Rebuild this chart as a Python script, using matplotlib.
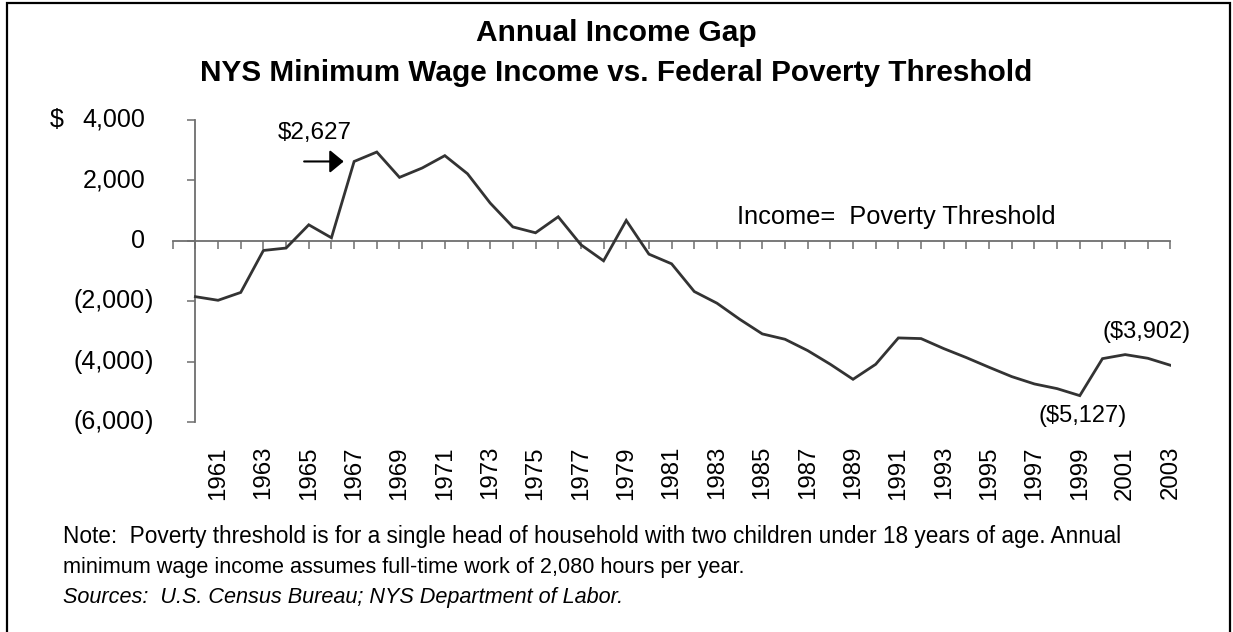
import matplotlib
matplotlib.use("Agg")
import matplotlib.pyplot as plt
from matplotlib.transforms import blended_transform_factory
from matplotlib.patches import Rectangle

plt.rcParams['font.family'] = ['Liberation Sans', 'DejaVu Sans']

# ---- data ----
years = list(range(1960, 2004))
gap = [-1850, -1970, -1710, -320, -240, 530, 100, 2627, 2940, 2100,
       2410, 2820, 2220, 1250, 460, 265, 795, -130, -663, 674,
       -442, -762, -1680, -2066, -2597, -3083, -3260, -3635, -4089, -4586,
       -4089, -3216, -3238, -3569, -3868, -4188, -4497, -4740, -4895, -5127,
       -3902, -3768, -3890, -4122]
label_years = list(range(1961, 2004, 2))
yticks = [4000, 2000, 0, -2000, -4000, -6000]
title = "Annual Income Gap"
subtitle = "NYS Minimum Wage Income vs. Federal Poverty Threshold"
note1 = "Note:  Poverty threshold is for a single head of household with two children under 18 years of age. Annual"
note2 = "minimum wage income assumes full-time work of 2,080 hours per year."
note3 = "Sources:  U.S. Census Bureau; NYS Department of Labor."

W, H = 1233, 632
fig = plt.figure(figsize=(W / 100, H / 100), dpi=100)
fig.patch.set_facecolor('white')

def fx(px):
    return px / W

def fy(py):
    return 1 - py / H

# border
fig.add_artist(Rectangle((fx(7), fy(640)), fx(1230) - fx(7), fy(3) - fy(640),
                         transform=fig.transFigure, fill=False, edgecolor='black',
                         linewidth=1.6))

left, right = 172.7, 1170.5
top, bottom = 120, 422
ax = fig.add_axes([fx(left), fy(bottom), fx(right) - fx(left), fy(top) - fy(bottom)])
ax.set_xlim(1959, 2003)
ax.set_ylim(-6000, 4000)
ax.patch.set_alpha(0)

axis_color = '#6e6e6e'
for s in ['top', 'right']:
    ax.spines[s].set_visible(False)
ax.spines['left'].set_position(('data', 1960))
ax.spines['bottom'].set_position(('data', 0))
ax.spines['left'].set_color(axis_color)
ax.spines['bottom'].set_color(axis_color)
ax.spines['left'].set_linewidth(1.3)
ax.spines['bottom'].set_linewidth(1.3)

ax.set_xticks(list(range(1959, 2004)))
ax.set_yticks(yticks)
ax.tick_params(axis='x', direction='out', length=5.5, width=1.1, color=axis_color,
               labelbottom=False)
ax.tick_params(axis='y', direction='out', length=5.5, width=1.1, color=axis_color,
               labelleft=False)

ax.plot(years, gap, color='#333333', linewidth=2.0, solid_joinstyle='miter', zorder=3)

# y tick labels (accounting style)
ytr = blended_transform_factory(fig.transFigure, ax.transData)
fs_ax = 18
for v in yticks:
    body = f"{abs(v):,}"
    if v < 0:
        fig.text(fx(145), v, "(" + body, transform=ytr, ha='right', va='center', fontsize=fs_ax)
        fig.text(fx(145), v, ")", transform=ytr, ha='left', va='center', fontsize=fs_ax)
    else:
        fig.text(fx(145), v, body, transform=ytr, ha='right', va='center', fontsize=fs_ax)
fig.text(fx(50), yticks[0], "$", transform=ytr, ha='left', va='center', fontsize=fs_ax)

# x tick labels
xtr = blended_transform_factory(ax.transData, fig.transFigure)
for yr in label_years:
    ax.text(yr, fy(446), str(yr), transform=xtr, rotation=90, ha='center', va='top',
            fontsize=17.3)

# annotations
i67 = years.index(1967)
ax.annotate("", xy=(years[i67], gap[i67]), xytext=(-50 * 0.72, 0),
            textcoords='offset points',
            arrowprops=dict(arrowstyle='-|>,head_length=0.85,head_width=0.7',
                            mutation_scale=10, color='black', lw=1.5,
                            shrinkA=0, shrinkB=7.5))
ax.annotate(f"${gap[i67]:,}", xy=(years[i67], gap[i67]), xytext=(-76 * 0.72, 28 * 0.72),
            textcoords='offset points', ha='left', va='center', fontsize=17.5)

i00 = years.index(2000)
ax.annotate(f"(${abs(gap[i00]):,})", xy=(years[i00], gap[i00]), xytext=(0, 27 * 0.72),
            textcoords='offset points', ha='left', va='center', fontsize=17)
i99 = years.index(1999)
ax.annotate(f"(${abs(gap[i99]):,})", xy=(years[i99], gap[i99]), xytext=(3 * 0.72, -20 * 0.72),
            textcoords='offset points', ha='center', va='center', fontsize=17)

ax.text(1983.9, 800, "Income=  Poverty Threshold", ha='left', va='center', fontsize=18.3)

# titles
fig.text(0.5, fy(33), title, ha='center', va='center', fontsize=21.5, fontweight='bold')
fig.text(0.5, fy(73), subtitle, ha='center', va='center', fontsize=21.4, fontweight='bold')

# notes
fig.text(fx(63), fy(537), note1, ha='left', va='center', fontsize=16.3)
fig.text(fx(63), fy(568), note2, ha='left', va='center', fontsize=15.6)
fig.text(fx(63), fy(598), note3, ha='left', va='center', fontsize=15.6, style='italic')

fig.savefig("out.png", dpi=100, facecolor='white')
